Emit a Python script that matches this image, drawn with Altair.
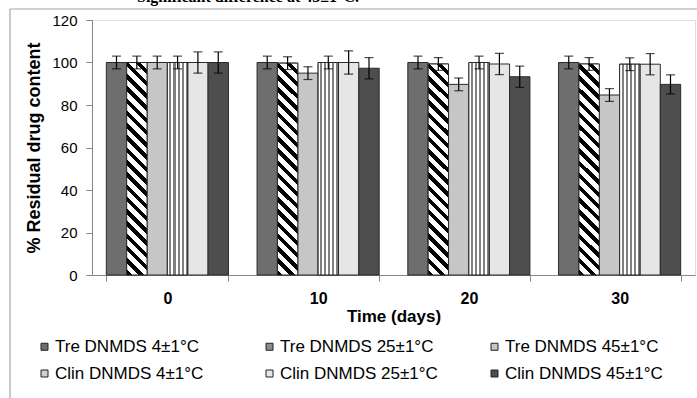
import altair as alt
import pandas as pd

# ---- data ----
days = ["0", "10", "20", "30"]
series = ["Tre DNMDS 4±1°C", "Tre DNMDS 25±1°C", "Tre DNMDS 45±1°C",
          "Clin DNMDS 4±1°C", "Clin DNMDS 25±1°C", "Clin DNMDS 45±1°C"]

tre4_mean = [100, 100, 100, 100]
tre4_err = [3, 3, 3, 3]
tre25_mean = [100, 99.7, 99.3, 99.3]
tre25_err = [3, 3, 3, 3]
tre45_mean = [100, 95, 89.7, 84.7]
tre45_err = [3, 3, 3, 3]
clin4_mean = [100, 100, 100, 99.2]
clin4_err = [3, 3, 3, 3]
clin25_mean = [100, 100, 99.3, 99.2]
clin25_err = [5, 5.5, 5, 5]
clin45_mean = [100, 97.3, 93.3, 89.7]
clin45_err = [5, 5, 5, 4.5]

means = [tre4_mean, tre25_mean, tre45_mean, clin4_mean, clin25_mean, clin45_mean]
errs = [tre4_err, tre25_err, tre45_err, clin4_err, clin25_err, clin45_err]

rows = []
for s, m_list, e_list in zip(series, means, errs):
    for d, m, e in zip(days, m_list, e_list):
        rows.append({"day": d, "series": s, "mean": m, "lo": m - e, "hi": m + e})
df = pd.DataFrame(rows)

# flat tones (legend and textures that can't be drawn)
tones = ["#6e6e6e", "#8a8a8a", "#c6c6c6", "#d0d0d0", "#e6e6e6", "#4e4e4e"]
# legend fills column by column (2 rows), so order it to read row by row
legend_order = [0, 3, 1, 4, 2, 5]
legend_domain = [series[i] for i in legend_order]
legend_range = [tones[i] for i in legend_order]


def stripe_stops(n, parts):
    stops = []
    for k in range(n):
        pos = k / n
        for color, frac in parts:
            stops.append({"offset": round(pos, 5), "color": color})
            pos += frac / n
            stops.append({"offset": round(min(pos, 1.0), 5), "color": color})
    return stops


diag_fill = {"gradient": "linear", "x1": 0, "y1": 1, "x2": 0.104, "y2": -0.086,
             "stops": stripe_stops(19, [("#000000", 0.45), ("#ffffff", 0.55)])}
vert_fill = {"gradient": "linear", "x1": 0, "y1": 0, "x2": 1, "y2": 0,
             "stops": stripe_stops(5, [("#ffffff", 0.5), ("#808080", 0.5)])}

x_enc = alt.X("day:N", sort=days,
              scale=alt.Scale(paddingInner=0.19, paddingOuter=0.095),
              axis=alt.Axis(title="Time (days)", labelAngle=0, tickBand="extent",
                            labelFont="Liberation Sans", labelFontSize=16,
                            labelFontWeight="bold", labelColor="#000000",
                            labelPadding=9, titleFont="Liberation Sans",
                            titleFontSize=17, titleFontWeight="bold",
                            titleColor="#000000", titlePadding=2,
                            domainColor="#868686", tickColor="#868686",
                            tickSize=6))
xo_enc = alt.XOffset("series:N", sort=series,
                     scale=alt.Scale(domain=series, paddingInner=0, paddingOuter=0))
y_scale = alt.Scale(domain=[0, 120], nice=False)
y_axis = alt.Axis(values=[0, 20, 40, 60, 80, 100, 120], grid=False,
                  labelFont="Liberation Sans", labelFontSize=15, labelColor="#000000",
                  labelPadding=9, titleFont="Liberation Sans", titleFontSize=18,
                  titleFontWeight="bold", titleColor="#000000", titlePadding=8,
                  domainColor="#868686", tickColor="#868686", tickSize=6)
YT = "% Residual drug content"

base = alt.Chart(df)

bars = base.mark_bar(stroke="#2a2a2a", strokeWidth=1).encode(
    x=x_enc, xOffset=xo_enc,
    y=alt.Y("mean:Q", scale=y_scale, axis=y_axis, title=YT),
    color=alt.Color("series:N", sort=legend_domain,
                    scale=alt.Scale(domain=legend_domain, range=legend_range),
                    legend=alt.Legend(title=None, orient="none", legendX=-56,
                                      legendY=318, columns=3, gridAlign="all",
                                      columnPadding=48, rowPadding=9,
                                      symbolType="square", symbolSize=49,
                                      symbolStrokeColor="#222222",
                                      symbolStrokeWidth=1, labelOffset=2,
                                      labelFont="Liberation Sans",
                                      labelFontSize=17, labelColor="#000000",
                                      labelLimit=300, padding=0)),
)

diag = base.mark_bar(fill=diag_fill, stroke="#2a2a2a", strokeWidth=1).encode(
    x=x_enc, xOffset=xo_enc,
    y=alt.Y("mean:Q", scale=y_scale, axis=y_axis, title=YT),
).transform_filter(alt.datum.series == series[1])

vert = base.mark_bar(fill=vert_fill, stroke="#2a2a2a", strokeWidth=1).encode(
    x=x_enc, xOffset=xo_enc,
    y=alt.Y("mean:Q", scale=y_scale, axis=y_axis, title=YT),
).transform_filter(alt.datum.series == series[3])

err_rule = base.mark_rule(color="#000000", strokeWidth=1.2).encode(
    x=x_enc, xOffset=xo_enc,
    y=alt.Y("lo:Q", scale=y_scale, axis=y_axis, title=YT), y2="hi:Q",
)
cap_hi = base.mark_tick(color="#000000", thickness=1.2, size=9).encode(
    x=x_enc, xOffset=xo_enc,
    y=alt.Y("hi:Q", scale=y_scale, axis=y_axis, title=YT),
)
cap_lo = base.mark_tick(color="#000000", thickness=1.2, size=9).encode(
    x=x_enc, xOffset=xo_enc,
    y=alt.Y("lo:Q", scale=y_scale, axis=y_axis, title=YT),
)

one = alt.Chart(pd.DataFrame({"k": [0]}))
frame_top = one.mark_rule(color="#a6a6a6", strokeWidth=1.2).encode(
    x=alt.value(-82), x2=alt.value(620), y=alt.value(-11))
frame_left = one.mark_rule(color="#a6a6a6", strokeWidth=1.2).encode(
    x=alt.value(-82), y=alt.value(-11), y2=alt.value(400))
cut_title = one.mark_text(font="Liberation Serif", fontSize=16, fontWeight="bold",
                          baseline="alphabetic", align="center",
                          color="#000000").encode(
    x=alt.value(156), y=alt.value(-18),
    text=alt.value("Significant difference at 45±1°C."))

chart = alt.layer(
    frame_top, frame_left, cut_title,
    bars, diag, vert, err_rule, cap_hi, cap_lo,
).properties(
    width=603, height=255,
    autosize=alt.AutoSizeParams(type="none"),
    padding={"left": 92, "top": 20, "right": 2, "bottom": 123},
).configure_view(stroke=None).configure(background="#ffffff")

chart.save("out.html", embed_options={"renderer": "svg", "actions": False})
